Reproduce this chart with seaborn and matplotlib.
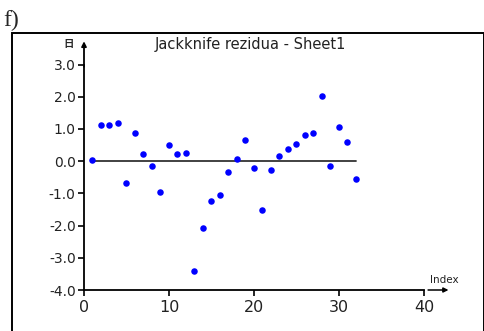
import matplotlib
matplotlib.use("Agg")
import matplotlib.pyplot as plt
import seaborn as sns
import pandas as pd
from matplotlib.patches import Rectangle

# Jackknife residuals per observation index
index = list(range(1, 33))
residuals = [0.03, 1.13, 1.13, 1.17, -0.68, 0.87, 0.21, -0.16, -0.96, 0.49,
             0.21, 0.26, -3.40, -2.09, -1.24, -1.06, -0.35, 0.06, 0.67, -0.22,
             -1.53, -0.27, 0.17, 0.39, 0.54, 0.82, 0.87, 2.03, -0.16, 1.05,
             0.58, -0.55]
x_ticks = [0, 10, 20, 30, 40]
y_ticks = [-4.0, -3.0, -2.0, -1.0, 0.0, 1.0, 2.0, 3.0]
y_tick_labels = ["-4.0", "-3.0", "-2.0", "-1.0", "0.0", "1.0", "2.0", "3.0"]

df = pd.DataFrame({"Index": index, "Residual": residuals})

sns.set_style("white")
plt.rcParams["font.family"] = ["DejaVu Sans", "Noto Sans CJK SC"]

W, H = 485, 331
fig = plt.figure(figsize=(W / 100, H / 100), dpi=100)

# outer panel frame
fig.patches.append(Rectangle((12 / W, -0.05), (484 - 12) / W, (H - 33) / H + 0.05,
                             transform=fig.transFigure, fill=False,
                             edgecolor="black", linewidth=1.4))
fig.text(3 / W, 1 - 20 / H, "f)", family="Liberation Serif", fontsize=17,
         va="center", ha="left")

ax = fig.add_axes([84 / W, (H - 290) / H, (424 - 84) / W, (290 - 64.5) / H])
ax.set_xlim(0, 40)
ax.set_ylim(-4, 3)

# zero reference line across the observed index range
ax.plot([min(index), max(index)], [0, 0], color="#333333", linewidth=1.3, zorder=1)

sns.scatterplot(data=df, x="Index", y="Residual", ax=ax, color="#0000ff",
                edgecolor="#0000ff", s=22, linewidth=0, zorder=3, legend=False)

for side in ["top", "right"]:
    ax.spines[side].set_visible(False)
for side in ["left", "bottom"]:
    ax.spines[side].set_linewidth(1.3)
    ax.spines[side].set_color("black")

ax.set_xticks(x_ticks)
ax.set_yticks(y_ticks)
ax.set_yticklabels(y_tick_labels)
ax.tick_params(axis="x", direction="out", length=4, width=1.2, pad=3, labelsize=11.5,
               bottom=True, colors="black")
ax.tick_params(axis="y", direction="out", length=4, width=1.2, pad=2, labelsize=10,
               left=True, colors="black")
for lab in ax.get_xticklabels() + ax.get_yticklabels():
    lab.set_color("#222222")
ax.set_xlabel("")
ax.set_ylabel("")

# axis arrows
ax.annotate("", xy=(0, 1.103), xycoords="axes fraction", xytext=(0, 0.99),
            arrowprops=dict(arrowstyle="-|>", color="black", lw=1.3,
                            mutation_scale=7, shrinkA=0, shrinkB=0))
ax.annotate("", xy=(1.072, 0), xycoords="axes fraction", xytext=(1.012, 0),
            arrowprops=dict(arrowstyle="-|>", color="black", lw=1.1,
                            mutation_scale=7, shrinkA=0, shrinkB=0))
fig.text(444 / W, 1 - 280 / H, "Index", fontsize=7.5, ha="center", va="center",
         family="Liberation Sans Narrow", color="#222222")
fig.text(69 / W, 1 - 44 / H, "日", fontsize=7.5, ha="center", va="center",
         family=["Noto Sans CJK SC", "DejaVu Sans"], fontweight="bold")

fig.text(250 / W, 1 - 45 / H, "Jackknife rezidua - Sheet1", fontsize=10.5,
         ha="center", va="center", color="#222222")

fig.savefig("out.png", dpi=100)
